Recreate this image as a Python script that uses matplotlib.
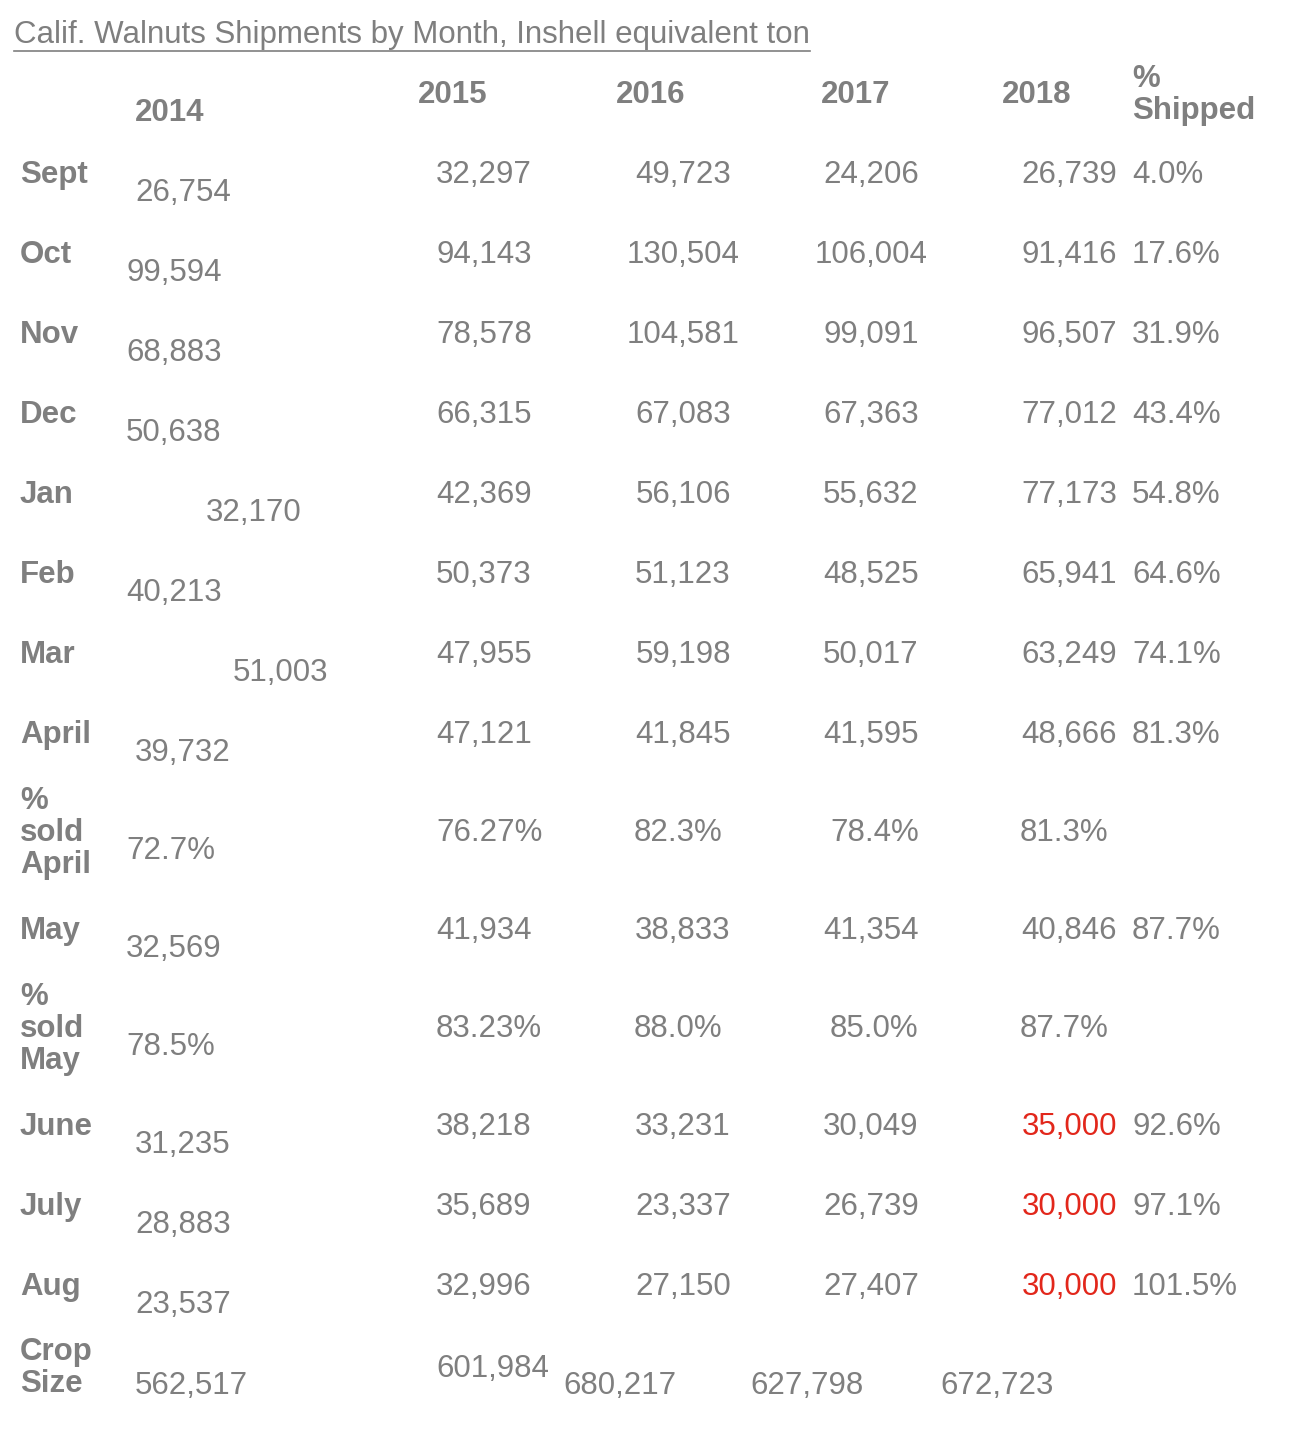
import matplotlib

matplotlib.use("Agg")
import matplotlib.pyplot as plt
from matplotlib.lines import Line2D

W, H = 1294, 1434
GRAY = "#7f7f7f"
RED = "#e2271b"
FONT = "Liberation Sans"

TITLE = "Calif. Walnuts Shipments by Month, Inshell equivalent ton"
YEARS = ["2014", "2015", "2016", "2017", "2018"]
ROW_LABELS = ["Sept", "Oct", "Nov", "Dec", "Jan", "Feb", "Mar", "April",
              "%\nsold\nApril", "May", "%\nsold\nMay", "June", "July", "Aug",
              "Crop\nSize"]
V2014 = ["26,754", "99,594", "68,883", "50,638", "32,170", "40,213", "51,003",
         "39,732", "72.7%", "32,569", "78.5%", "31,235", "28,883", "23,537",
         "562,517"]
V2015 = ["32,297", "94,143", "78,578", "66,315", "42,369", "50,373", "47,955",
         "47,121", "76.27%", "41,934", "83.23%", "38,218", "35,689", "32,996",
         "601,984"]
V2016 = ["49,723", "130,504", "104,581", "67,083", "56,106", "51,123", "59,198",
         "41,845", "82.3%", "38,833", "88.0%", "33,231", "23,337", "27,150",
         "680,217"]
V2017 = ["24,206", "106,004", "99,091", "67,363", "55,632", "48,525", "50,017",
         "41,595", "78.4%", "41,354", "85.0%", "30,049", "26,739", "27,407",
         "627,798"]
V2018 = ["26,739", "91,416", "96,507", "77,012", "77,173", "65,941", "63,249",
         "48,666", "81.3%", "40,846", "87.7%", "35,000", "30,000", "30,000",
         "672,723"]
ESTIMATED_2018 = [False] * 11 + [True, True, True, False]
SHIPPED = ["4.0%", "17.6%", "31.9%", "43.4%", "54.8%", "64.6%", "74.1%",
           "81.3%", "", "87.7%", "", "92.6%", "97.1%", "101.5%", ""]

# layout (pixels)
ROW_Y = [175, 255, 335, 415, 495, 575, 655, 735, 833, 931, 1029, 1127, 1207,
         1287, 1368]
X2014 = [135, 126, 126, 126, 206, 126, 233, 135, 126, 126, 126, 135, 135, 135,
         135]
FS = 22.5

fig = plt.figure(figsize=(W / 100, H / 100), dpi=100)


def put(x, y, s, **kw):
    kw.setdefault("color", GRAY)
    kw.setdefault("fontsize", FS)
    kw.setdefault("family", FONT)
    kw.setdefault("va", "center")
    return fig.text(x / W, 1 - y / H, s, **kw)


title = put(14, 35, TITLE, fontsize=22.5)
fig.canvas.draw()
bb = title.get_window_extent()
fig.add_artist(Line2D([bb.x0 / W, bb.x1 / W], [(bb.y0 - 1) / H] * 2,
                      color=GRAY, lw=1.2, transform=fig.transFigure))

for x, y, yr in zip([135, 418, 616, 821, 1002], [113, 95, 95, 95, 95], YEARS):
    put(x, y, yr, weight="bold")
put(1132, 95, "%\nShipped", weight="bold", linespacing=1.1)

for i, lab in enumerate(ROW_LABELS):
    y = ROW_Y[i]
    pct_row = "%" in V2015[i]
    crop = i == len(ROW_LABELS) - 1
    put(20, y, lab, weight="bold", linespacing=1.1)
    put(X2014[i], y + 18, V2014[i])
    put(436, y + (1 if crop else 0), V2015[i])
    if crop:
        put(563, y + 18, V2016[i])
        put(750, y + 18, V2017[i])
        put(940, y + 18, V2018[i])
        continue
    if pct_row:
        put(634, y, V2016[i])
        put(830, y, V2017[i])
        put(1020, y, V2018[i])
    else:
        put(683, y, V2016[i], ha="center")
        put(871, y, V2017[i], ha="center")
        put(1117, y, V2018[i], ha="right",
            color=RED if ESTIMATED_2018[i] else GRAY)
        put(1132, y, SHIPPED[i])

fig.savefig("out.png", dpi=100, facecolor="white")
